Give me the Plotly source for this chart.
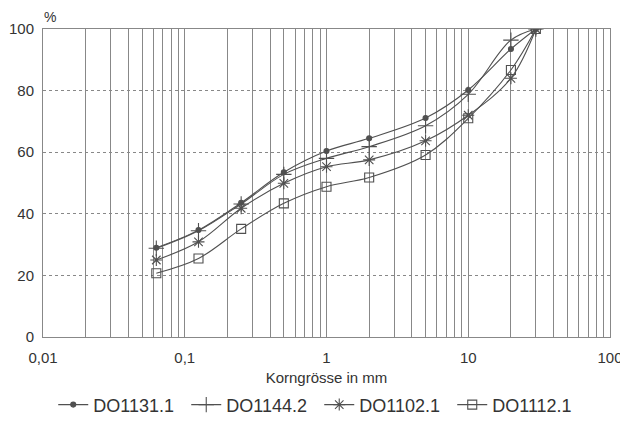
import plotly.graph_objects as go

sizes_mm = [0.063, 0.125, 0.25, 0.5, 1, 2, 5, 10, 20, 30]
series_names = ["DO1131.1", "DO1144.2", "DO1102.1", "DO1112.1"]
do1131_1 = [29.0, 34.7, 43.6, 53.5, 60.4, 64.5, 71.1, 80.2, 93.5, 100]
do1144_2 = [28.8, 34.5, 43.2, 52.8, 58.0, 61.8, 68.6, 78.8, 96.4, 100]
do1102_1 = [25.0, 30.9, 41.8, 49.9, 55.3, 57.5, 63.7, 72.0, 84.0, 100]
do1112_1 = [20.7, 25.5, 35.1, 43.4, 48.8, 51.8, 59.1, 71.0, 86.7, 100]

x_major = [0.01, 0.1, 1, 10, 100]
x_major_labels = ["0,01", "0,1", "1", "10", "100"]
y_ticks = [0, 20, 40, 60, 80, 100]

# all log grid positions (1..9 per decade)
grid_vals = []
grid_text = []
for dec in [0.01, 0.1, 1, 10]:
    for m in range(1, 10):
        v = round(dec * m, 6)
        grid_vals.append(v)
        grid_text.append(x_major_labels[x_major.index(v)] if v in x_major else "")
grid_vals.append(100)
grid_text.append("100")

symbols = ["circle", "cross-thin-open", "asterisk-open", "square-open"]
msizes = [5, 11, 10, 9]
data = [do1131_1, do1144_2, do1102_1, do1112_1]

line_col = "#505050"
fig = go.Figure()
for name, ys, sym, ms in zip(series_names, data, symbols, msizes):
    fig.add_trace(go.Scatter(
        x=sizes_mm, y=ys, name=name, mode="lines+markers",
        line=dict(color=line_col, width=1.1, shape="spline", smoothing=1.0),
        marker=dict(symbol=sym, size=ms, color=line_col,
                    line=dict(color=line_col, width=1.1)),
    ))

# page body has an 8px margin, so the figure is drawn 8px in from the top-left
fig.update_layout(
    width=620, height=413,
    margin=dict(l=35, r=18, t=21, b=84, autoexpand=False),
    paper_bgcolor="white", plot_bgcolor="white",
    font=dict(family="Liberation Sans, Arial, sans-serif", size=15, color="#333333"),
    showlegend=True,
    legend=dict(orientation="h", x=0.502, xref="container", xanchor="center",
                y=0.039, yref="container", yanchor="middle",
                font=dict(size=18), itemwidth=30, entrywidth=88, entrywidthmode="pixels",
                tracegroupgap=0),
    xaxis=dict(type="log", range=[-2, 2], tickvals=grid_vals, ticktext=grid_text,
               showgrid=True, gridcolor="#888888", gridwidth=1,
               showline=True, linecolor="#888888", mirror=True, ticks="",
               zeroline=False, automargin=False, ticklabelstandoff=7,
               title=dict(text="Korngrösse in mm", font=dict(size=15), standoff=22)),
    yaxis=dict(range=[0, 100], tickvals=y_ticks,
               showgrid=True, gridcolor="#888888", griddash="dot", gridwidth=1,
               showline=True, linecolor="#888888", mirror=True, ticks="",
               zeroline=False, automargin=False, ticklabelstandoff=5),
    annotations=[dict(text="%", x=0, xref="paper", xanchor="left", xshift=-1,
                      y=1, yref="paper", yanchor="bottom", yshift=2,
                      showarrow=False, font=dict(size=14))],
)

fig.write_html("out.html")
